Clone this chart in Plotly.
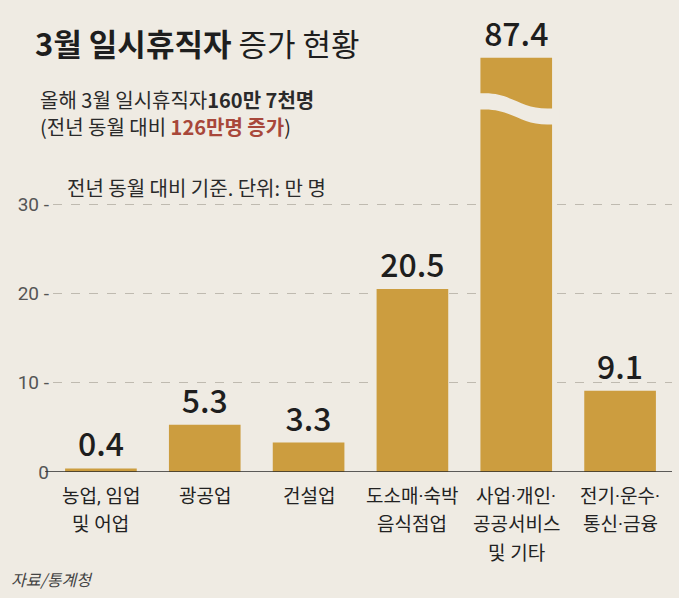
import plotly.graph_objects as go

categories = ["농업, 임업<br>및 어업", "광공업", "건설업", "도소매·숙박<br>음식점업",
              "사업·개인·<br>공공서비스<br>및 기타", "전기·운수·<br>통신·금융"]
values = [0.4, 5.3, 3.3, 20.5, 87.4, 9.1]
y_ticks = [0, 10, 20, 30]
y_tick_labels = ["0", "10 -", "20 -", "30 -"]

AXIS_CAP = 46.4  # broken-axis display cap for the off-scale bar
display = [min(v, AXIS_CAP) for v in values]
xpos = list(range(len(categories)))

BG = "#efebe3"
BAR = "#cc9d3f"
FONT = "Noto Sans CJK KR"
MIXFONT = "Roboto, Noto Sans CJK KR"
W, H = 679, 598

fig = go.Figure()
fig.add_trace(go.Bar(
    x=xpos, y=display, width=0.69,
    marker=dict(color=BAR, line=dict(width=0)),
    text=[f"{v:.1f}" for v in values], textposition="outside",
    textfont=dict(family=FONT, size=32, color="#1e1e1e", weight=500),
    cliponaxis=False, hoverinfo="skip",
))

# wave break on the off-scale bar
bi = values.index(max(values))
xl, xr, xm1, xm2 = bi - 0.42, bi + 0.42, bi - 0.05, bi + 0.05
ya, yb, gap = 42.4, 40.7, 1.8
fig.add_shape(type="path", xref="x", yref="y",
              path=(f"M {xl},{ya} L {bi-0.3},{ya} C {xm1},{ya} {xm2},{yb} {bi+0.3},{yb} L {xr},{yb} "
                    f"L {xr},{yb-gap} L {bi+0.3},{yb-gap} C {xm2},{yb-gap} {xm1},{ya-gap} {bi-0.3},{ya-gap} "
                    f"L {xl},{ya-gap} Z"),
              fillcolor=BG, line=dict(width=0), layer="above")

# zero line
fig.add_shape(type="line", xref="paper", yref="y", x0=45/W, x1=672/W, y0=0, y1=0,
              line=dict(color="#2a2a2a", width=1.5))

step = 103.8
x0px = 53
fig.update_layout(
    width=W, height=H, paper_bgcolor=BG, plot_bgcolor=BG,
    margin=dict(l=0, r=0, t=0, b=0, pad=0, autoexpand=False), showlegend=False,
    font=dict(family=FONT),
    xaxis=dict(domain=[x0px/W, 672/W], range=[-0.5 + (x0px-49)/step, 5.5],
               tickmode="array", tickvals=xpos, showticklabels=False, automargin=False,
               showgrid=False, zeroline=False, ticks=""),
    yaxis=dict(domain=[1-472/H, 1-25.5/H], range=[0, 50], tickmode="array",
               tickvals=y_ticks, ticktext=y_tick_labels, showgrid=True, automargin=False,
               gridcolor="#bfbab0", griddash="dash", gridwidth=1, zeroline=False,
               layer="above traces", ticks="", ticklabelstandoff=3,
               tickfont=dict(family=MIXFONT, size=19, color="#555")),
)

# category labels, one annotation per line for the reference's line spacing
for i, cat in enumerate(categories):
    for k, line in enumerate(cat.split("<br>")):
        fig.add_annotation(text=line, xref="x", yref="paper", x=i, y=1-(496+28.5*k)/H,
                           xanchor="center", yanchor="middle", showarrow=False,
                           font=dict(family=MIXFONT, size=19, color="#222"))

def ann(text, x, y, size, color="#222", xanchor="left", family=FONT):
    fig.add_annotation(text=text, xref="paper", yref="paper", x=x/W, y=1-y/H,
                       xanchor=xanchor, yanchor="middle", showarrow=False,
                       font=dict(family=family, size=size, color=color))

ann("<b>3월 일시휴직자</b> 증가 현황", 33, 43, 31, color="#1e1e1e")
ann("올해 3월 일시휴직자<b>160만 7천명</b>", 38, 99, 20, color="#2a2a2a")
ann("(전년 동월 대비 <b><span style='color:#a8473a'>126만명 증가</span></b>)", 38, 127, 20, color="#2a2a2a")
ann("전년 동월 대비 기준. 단위: 만 명", 65, 187, 20, color="#2a2a2a")
ann("<i>자료/통계청</i>", 9, 579, 16, color="#444")

fig.write_html("out.html", config={"displayModeBar": False},
               post_script="document.body.style.margin='0px';")
